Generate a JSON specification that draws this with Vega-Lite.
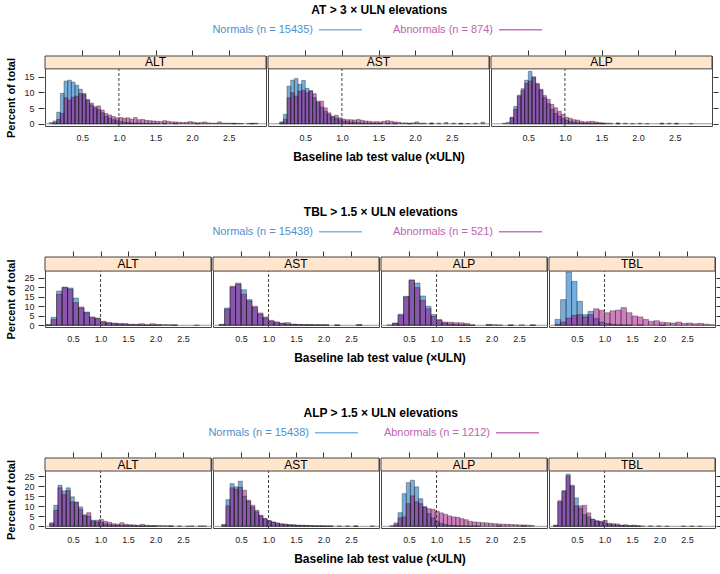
{
"$schema": "https://vega.github.io/schema/vega-lite/v6.json",
"padding": {"left": 5, "top": 4, "right": 5, "bottom": 4},
"background": "white",
"config": {
 "font": "Liberation Sans",
 "view": {"stroke": "#444", "strokeWidth": 1},
 "axis": {"domain": false, "grid": false, "labelFont": "Liberation Sans", "labelFontSize": 9, "labelColor": "#222", "tickColor": "#333", "titleFont": "Liberation Sans", "titleFontWeight": "bold", "titleColor": "#000"},
 "title": {"font": "Liberation Sans", "fontSize": 12, "fontWeight": "bold", "color": "#000"}
},
"datasets": {
"r1": [
{"t":"ALT","g":"N","lo":0.05,"hi":0.1,"p":0.4},{"t":"ALT","g":"N","lo":0.1,"hi":0.15,"p":0.9},{"t":"ALT","g":"N","lo":0.15,"hi":0.2,"p":3.7},{"t":"ALT","g":"N","lo":0.2,"hi":0.25,"p":9.7},{"t":"ALT","g":"N","lo":0.25,"hi":0.3,"p":13.6},{"t":"ALT","g":"N","lo":0.3,"hi":0.35,"p":13.9},{"t":"ALT","g":"N","lo":0.35,"hi":0.4,"p":13.3},{"t":"ALT","g":"N","lo":0.4,"hi":0.45,"p":12.3},{"t":"ALT","g":"N","lo":0.45,"hi":0.5,"p":11.0},{"t":"ALT","g":"N","lo":0.5,"hi":0.55,"p":9.3},{"t":"ALT","g":"N","lo":0.55,"hi":0.6,"p":7.5},{"t":"ALT","g":"N","lo":0.6,"hi":0.65,"p":6.0},{"t":"ALT","g":"N","lo":0.65,"hi":0.7,"p":5.0},{"t":"ALT","g":"N","lo":0.7,"hi":0.75,"p":4.5},{"t":"ALT","g":"N","lo":0.75,"hi":0.8,"p":3.5},{"t":"ALT","g":"N","lo":0.8,"hi":0.85,"p":2.4},{"t":"ALT","g":"N","lo":0.85,"hi":0.9,"p":1.8},{"t":"ALT","g":"N","lo":0.9,"hi":0.95,"p":1.3},{"t":"ALT","g":"N","lo":0.95,"hi":1.0,"p":1.0},{"t":"ALT","g":"N","lo":1.0,"hi":1.05,"p":0.7},{"t":"ALT","g":"N","lo":1.05,"hi":1.1,"p":0.5},{"t":"ALT","g":"N","lo":1.1,"hi":1.15,"p":0.4},{"t":"ALT","g":"N","lo":1.15,"hi":1.2,"p":0.3},{"t":"ALT","g":"N","lo":1.2,"hi":1.25,"p":0.25},{"t":"ALT","g":"N","lo":1.25,"hi":1.3,"p":0.2},{"t":"ALT","g":"N","lo":1.3,"hi":1.35,"p":0.15},{"t":"ALT","g":"N","lo":1.35,"hi":1.4,"p":0.12},{"t":"ALT","g":"N","lo":1.4,"hi":1.45,"p":0.1},{"t":"ALT","g":"N","lo":1.45,"hi":1.5,"p":0.1},{"t":"ALT","g":"N","lo":1.5,"hi":1.55,"p":0.08},{"t":"ALT","g":"N","lo":1.6,"hi":1.65,"p":0.06},{"t":"ALT","g":"N","lo":1.75,"hi":1.8,"p":0.05},{"t":"ALT","g":"N","lo":2.05,"hi":2.1,"p":0.04},{"t":"ALT","g":"N","lo":2.55,"hi":2.6,"p":0.04},{"t":"ALT","g":"N","lo":2.8,"hi":2.85,"p":0.04},
{"t":"ALT","g":"A","lo":0.1,"hi":0.15,"p":0.3},{"t":"ALT","g":"A","lo":0.15,"hi":0.2,"p":1.4},{"t":"ALT","g":"A","lo":0.2,"hi":0.25,"p":3.3},{"t":"ALT","g":"A","lo":0.25,"hi":0.3,"p":8.3},{"t":"ALT","g":"A","lo":0.3,"hi":0.35,"p":7.6},{"t":"ALT","g":"A","lo":0.35,"hi":0.4,"p":8.5},{"t":"ALT","g":"A","lo":0.4,"hi":0.45,"p":8.8},{"t":"ALT","g":"A","lo":0.45,"hi":0.5,"p":9.6},{"t":"ALT","g":"A","lo":0.5,"hi":0.55,"p":9.7},{"t":"ALT","g":"A","lo":0.55,"hi":0.6,"p":7.7},{"t":"ALT","g":"A","lo":0.6,"hi":0.65,"p":6.6},{"t":"ALT","g":"A","lo":0.65,"hi":0.7,"p":5.5},{"t":"ALT","g":"A","lo":0.7,"hi":0.75,"p":5.7},{"t":"ALT","g":"A","lo":0.75,"hi":0.8,"p":4.4},{"t":"ALT","g":"A","lo":0.8,"hi":0.85,"p":3.3},{"t":"ALT","g":"A","lo":0.85,"hi":0.9,"p":2.8},{"t":"ALT","g":"A","lo":0.9,"hi":0.95,"p":2.3},{"t":"ALT","g":"A","lo":0.95,"hi":1.0,"p":1.9},{"t":"ALT","g":"A","lo":1.0,"hi":1.05,"p":2.0},{"t":"ALT","g":"A","lo":1.05,"hi":1.1,"p":1.8},{"t":"ALT","g":"A","lo":1.1,"hi":1.15,"p":1.9},{"t":"ALT","g":"A","lo":1.15,"hi":1.2,"p":1.5},{"t":"ALT","g":"A","lo":1.2,"hi":1.25,"p":2.0},{"t":"ALT","g":"A","lo":1.25,"hi":1.3,"p":1.3},{"t":"ALT","g":"A","lo":1.3,"hi":1.35,"p":1.4},{"t":"ALT","g":"A","lo":1.35,"hi":1.4,"p":1.1},{"t":"ALT","g":"A","lo":1.4,"hi":1.45,"p":1.0},{"t":"ALT","g":"A","lo":1.45,"hi":1.5,"p":0.9},{"t":"ALT","g":"A","lo":1.5,"hi":1.55,"p":0.8},{"t":"ALT","g":"A","lo":1.55,"hi":1.6,"p":0.7},{"t":"ALT","g":"A","lo":1.6,"hi":1.65,"p":1.0},{"t":"ALT","g":"A","lo":1.65,"hi":1.7,"p":0.8},{"t":"ALT","g":"A","lo":1.7,"hi":1.75,"p":0.6},{"t":"ALT","g":"A","lo":1.75,"hi":1.8,"p":0.6},{"t":"ALT","g":"A","lo":1.8,"hi":1.85,"p":0.5},{"t":"ALT","g":"A","lo":1.85,"hi":1.9,"p":0.4},{"t":"ALT","g":"A","lo":1.9,"hi":1.95,"p":0.5},{"t":"ALT","g":"A","lo":1.95,"hi":2.0,"p":0.7},{"t":"ALT","g":"A","lo":2.0,"hi":2.05,"p":0.5},{"t":"ALT","g":"A","lo":2.05,"hi":2.1,"p":0.3},{"t":"ALT","g":"A","lo":2.1,"hi":2.15,"p":0.4},{"t":"ALT","g":"A","lo":2.15,"hi":2.2,"p":0.6},{"t":"ALT","g":"A","lo":2.2,"hi":2.25,"p":0.3},{"t":"ALT","g":"A","lo":2.25,"hi":2.3,"p":0.2},{"t":"ALT","g":"A","lo":2.3,"hi":2.35,"p":0.2},{"t":"ALT","g":"A","lo":2.35,"hi":2.4,"p":0.6},{"t":"ALT","g":"A","lo":2.4,"hi":2.45,"p":0.2},{"t":"ALT","g":"A","lo":2.45,"hi":2.5,"p":0.2},{"t":"ALT","g":"A","lo":2.5,"hi":2.55,"p":0.2},{"t":"ALT","g":"A","lo":2.55,"hi":2.6,"p":0.2},{"t":"ALT","g":"A","lo":2.6,"hi":2.65,"p":0.15},{"t":"ALT","g":"A","lo":2.65,"hi":2.7,"p":0.1},{"t":"ALT","g":"A","lo":2.75,"hi":2.8,"p":0.15},{"t":"ALT","g":"A","lo":2.8,"hi":2.85,"p":0.2},{"t":"ALT","g":"A","lo":2.85,"hi":2.9,"p":0.2},
{"t":"AST","g":"N","lo":0.15,"hi":0.2,"p":0.6},{"t":"AST","g":"N","lo":0.2,"hi":0.25,"p":3.0},{"t":"AST","g":"N","lo":0.25,"hi":0.3,"p":12.0},{"t":"AST","g":"N","lo":0.3,"hi":0.35,"p":13.9},{"t":"AST","g":"N","lo":0.35,"hi":0.4,"p":14.4},{"t":"AST","g":"N","lo":0.4,"hi":0.45,"p":12.6},{"t":"AST","g":"N","lo":0.45,"hi":0.5,"p":13.8},{"t":"AST","g":"N","lo":0.5,"hi":0.55,"p":11.3},{"t":"AST","g":"N","lo":0.55,"hi":0.6,"p":10.4},{"t":"AST","g":"N","lo":0.6,"hi":0.65,"p":8.3},{"t":"AST","g":"N","lo":0.65,"hi":0.7,"p":6.7},{"t":"AST","g":"N","lo":0.7,"hi":0.75,"p":5.3},{"t":"AST","g":"N","lo":0.75,"hi":0.8,"p":4.0},{"t":"AST","g":"N","lo":0.8,"hi":0.85,"p":3.0},{"t":"AST","g":"N","lo":0.85,"hi":0.9,"p":2.2},{"t":"AST","g":"N","lo":0.9,"hi":0.95,"p":1.7},{"t":"AST","g":"N","lo":0.95,"hi":1.0,"p":1.3},{"t":"AST","g":"N","lo":1.0,"hi":1.05,"p":0.9},{"t":"AST","g":"N","lo":1.05,"hi":1.1,"p":0.7},{"t":"AST","g":"N","lo":1.1,"hi":1.15,"p":0.5},{"t":"AST","g":"N","lo":1.15,"hi":1.2,"p":0.4},{"t":"AST","g":"N","lo":1.2,"hi":1.25,"p":0.3},{"t":"AST","g":"N","lo":1.25,"hi":1.3,"p":0.25},{"t":"AST","g":"N","lo":1.3,"hi":1.35,"p":0.2},{"t":"AST","g":"N","lo":1.35,"hi":1.4,"p":0.15},{"t":"AST","g":"N","lo":1.4,"hi":1.45,"p":0.12},{"t":"AST","g":"N","lo":1.45,"hi":1.5,"p":0.1},{"t":"AST","g":"N","lo":1.5,"hi":1.55,"p":0.1},{"t":"AST","g":"N","lo":1.6,"hi":1.65,"p":0.08},{"t":"AST","g":"N","lo":1.7,"hi":1.75,"p":0.06},{"t":"AST","g":"N","lo":1.9,"hi":1.95,"p":0.05},{"t":"AST","g":"N","lo":2.2,"hi":2.25,"p":0.04},{"t":"AST","g":"N","lo":2.6,"hi":2.65,"p":0.04},
{"t":"AST","g":"A","lo":0.15,"hi":0.2,"p":0.3},{"t":"AST","g":"A","lo":0.2,"hi":0.25,"p":1.4},{"t":"AST","g":"A","lo":0.25,"hi":0.3,"p":8.3},{"t":"AST","g":"A","lo":0.3,"hi":0.35,"p":9.9},{"t":"AST","g":"A","lo":0.35,"hi":0.4,"p":8.8},{"t":"AST","g":"A","lo":0.4,"hi":0.45,"p":10.4},{"t":"AST","g":"A","lo":0.45,"hi":0.5,"p":10.6},{"t":"AST","g":"A","lo":0.5,"hi":0.55,"p":9.9},{"t":"AST","g":"A","lo":0.55,"hi":0.6,"p":10.6},{"t":"AST","g":"A","lo":0.6,"hi":0.65,"p":9.6},{"t":"AST","g":"A","lo":0.65,"hi":0.7,"p":7.2},{"t":"AST","g":"A","lo":0.7,"hi":0.75,"p":7.2},{"t":"AST","g":"A","lo":0.75,"hi":0.8,"p":5.1},{"t":"AST","g":"A","lo":0.8,"hi":0.85,"p":3.5},{"t":"AST","g":"A","lo":0.85,"hi":0.9,"p":2.4},{"t":"AST","g":"A","lo":0.9,"hi":0.95,"p":2.7},{"t":"AST","g":"A","lo":0.95,"hi":1.0,"p":1.9},{"t":"AST","g":"A","lo":1.0,"hi":1.05,"p":1.5},{"t":"AST","g":"A","lo":1.05,"hi":1.1,"p":1.3},{"t":"AST","g":"A","lo":1.1,"hi":1.15,"p":1.3},{"t":"AST","g":"A","lo":1.15,"hi":1.2,"p":1.2},{"t":"AST","g":"A","lo":1.2,"hi":1.25,"p":1.4},{"t":"AST","g":"A","lo":1.25,"hi":1.3,"p":1.1},{"t":"AST","g":"A","lo":1.3,"hi":1.35,"p":0.9},{"t":"AST","g":"A","lo":1.35,"hi":1.4,"p":0.8},{"t":"AST","g":"A","lo":1.4,"hi":1.45,"p":0.6},{"t":"AST","g":"A","lo":1.45,"hi":1.5,"p":0.7},{"t":"AST","g":"A","lo":1.5,"hi":1.55,"p":0.6},{"t":"AST","g":"A","lo":1.55,"hi":1.6,"p":0.8},{"t":"AST","g":"A","lo":1.6,"hi":1.65,"p":1.0},{"t":"AST","g":"A","lo":1.65,"hi":1.7,"p":0.8},{"t":"AST","g":"A","lo":1.7,"hi":1.75,"p":0.6},{"t":"AST","g":"A","lo":1.75,"hi":1.8,"p":0.5},{"t":"AST","g":"A","lo":1.8,"hi":1.85,"p":0.3},{"t":"AST","g":"A","lo":1.85,"hi":1.9,"p":0.3},{"t":"AST","g":"A","lo":1.9,"hi":1.95,"p":0.2},{"t":"AST","g":"A","lo":1.95,"hi":2.0,"p":0.3},{"t":"AST","g":"A","lo":2.0,"hi":2.05,"p":0.6},{"t":"AST","g":"A","lo":2.05,"hi":2.1,"p":0.2},{"t":"AST","g":"A","lo":2.1,"hi":2.15,"p":0.2},{"t":"AST","g":"A","lo":2.2,"hi":2.25,"p":0.3},{"t":"AST","g":"A","lo":2.3,"hi":2.35,"p":0.2},{"t":"AST","g":"A","lo":2.4,"hi":2.45,"p":0.4},{"t":"AST","g":"A","lo":2.5,"hi":2.55,"p":0.2},{"t":"AST","g":"A","lo":2.6,"hi":2.65,"p":0.2},{"t":"AST","g":"A","lo":2.7,"hi":2.75,"p":0.1},{"t":"AST","g":"A","lo":2.8,"hi":2.85,"p":0.2},{"t":"AST","g":"A","lo":2.9,"hi":2.95,"p":0.5},
{"t":"ALP","g":"N","lo":0.15,"hi":0.2,"p":0.2},{"t":"ALP","g":"N","lo":0.2,"hi":0.25,"p":0.5},{"t":"ALP","g":"N","lo":0.25,"hi":0.3,"p":2.1},{"t":"ALP","g":"N","lo":0.3,"hi":0.35,"p":5.5},{"t":"ALP","g":"N","lo":0.35,"hi":0.4,"p":9.1},{"t":"ALP","g":"N","lo":0.4,"hi":0.45,"p":11.2},{"t":"ALP","g":"N","lo":0.45,"hi":0.5,"p":13.9},{"t":"ALP","g":"N","lo":0.5,"hi":0.55,"p":16.7},{"t":"ALP","g":"N","lo":0.55,"hi":0.6,"p":15.0},{"t":"ALP","g":"N","lo":0.6,"hi":0.65,"p":12.9},{"t":"ALP","g":"N","lo":0.65,"hi":0.7,"p":10.7},{"t":"ALP","g":"N","lo":0.7,"hi":0.75,"p":8.3},{"t":"ALP","g":"N","lo":0.75,"hi":0.8,"p":6.4},{"t":"ALP","g":"N","lo":0.8,"hi":0.85,"p":4.6},{"t":"ALP","g":"N","lo":0.85,"hi":0.9,"p":3.3},{"t":"ALP","g":"N","lo":0.9,"hi":0.95,"p":2.4},{"t":"ALP","g":"N","lo":0.95,"hi":1.0,"p":1.7},{"t":"ALP","g":"N","lo":1.0,"hi":1.05,"p":1.1},{"t":"ALP","g":"N","lo":1.05,"hi":1.1,"p":0.7},{"t":"ALP","g":"N","lo":1.1,"hi":1.15,"p":0.5},{"t":"ALP","g":"N","lo":1.15,"hi":1.2,"p":0.35},{"t":"ALP","g":"N","lo":1.2,"hi":1.25,"p":0.25},{"t":"ALP","g":"N","lo":1.25,"hi":1.3,"p":0.2},{"t":"ALP","g":"N","lo":1.3,"hi":1.35,"p":0.15},{"t":"ALP","g":"N","lo":1.35,"hi":1.4,"p":0.1},{"t":"ALP","g":"N","lo":1.4,"hi":1.45,"p":0.1},{"t":"ALP","g":"N","lo":1.45,"hi":1.5,"p":0.08},{"t":"ALP","g":"N","lo":1.5,"hi":1.55,"p":0.06},{"t":"ALP","g":"N","lo":1.7,"hi":1.75,"p":0.05},{"t":"ALP","g":"N","lo":1.9,"hi":1.95,"p":0.05},{"t":"ALP","g":"N","lo":2.1,"hi":2.15,"p":0.05},{"t":"ALP","g":"N","lo":2.3,"hi":2.35,"p":0.05},{"t":"ALP","g":"N","lo":2.5,"hi":2.55,"p":0.05},{"t":"ALP","g":"N","lo":2.7,"hi":2.75,"p":0.05},
{"t":"ALP","g":"A","lo":0.25,"hi":0.3,"p":1.9},{"t":"ALP","g":"A","lo":0.3,"hi":0.35,"p":4.6},{"t":"ALP","g":"A","lo":0.35,"hi":0.4,"p":8.8},{"t":"ALP","g":"A","lo":0.4,"hi":0.45,"p":10.6},{"t":"ALP","g":"A","lo":0.45,"hi":0.5,"p":12.9},{"t":"ALP","g":"A","lo":0.5,"hi":0.55,"p":13.6},{"t":"ALP","g":"A","lo":0.55,"hi":0.6,"p":14.7},{"t":"ALP","g":"A","lo":0.6,"hi":0.65,"p":12.6},{"t":"ALP","g":"A","lo":0.65,"hi":0.7,"p":11.0},{"t":"ALP","g":"A","lo":0.7,"hi":0.75,"p":9.0},{"t":"ALP","g":"A","lo":0.75,"hi":0.8,"p":7.8},{"t":"ALP","g":"A","lo":0.8,"hi":0.85,"p":6.2},{"t":"ALP","g":"A","lo":0.85,"hi":0.9,"p":5.1},{"t":"ALP","g":"A","lo":0.9,"hi":0.95,"p":4.0},{"t":"ALP","g":"A","lo":0.95,"hi":1.0,"p":3.0},{"t":"ALP","g":"A","lo":1.0,"hi":1.05,"p":2.1},{"t":"ALP","g":"A","lo":1.05,"hi":1.1,"p":1.7},{"t":"ALP","g":"A","lo":1.1,"hi":1.15,"p":1.3},{"t":"ALP","g":"A","lo":1.15,"hi":1.2,"p":1.2},{"t":"ALP","g":"A","lo":1.2,"hi":1.25,"p":0.8},{"t":"ALP","g":"A","lo":1.25,"hi":1.3,"p":0.6},{"t":"ALP","g":"A","lo":1.3,"hi":1.35,"p":0.7},{"t":"ALP","g":"A","lo":1.35,"hi":1.4,"p":0.8},{"t":"ALP","g":"A","lo":1.4,"hi":1.45,"p":0.6},{"t":"ALP","g":"A","lo":1.45,"hi":1.5,"p":0.4},{"t":"ALP","g":"A","lo":1.5,"hi":1.55,"p":0.3},{"t":"ALP","g":"A","lo":1.55,"hi":1.6,"p":0.2},{"t":"ALP","g":"A","lo":1.6,"hi":1.65,"p":0.2},{"t":"ALP","g":"A","lo":1.7,"hi":1.75,"p":0.3},{"t":"ALP","g":"A","lo":1.8,"hi":1.85,"p":0.2},{"t":"ALP","g":"A","lo":2.0,"hi":2.05,"p":0.2},{"t":"ALP","g":"A","lo":2.3,"hi":2.35,"p":0.2},{"t":"ALP","g":"A","lo":2.4,"hi":2.45,"p":0.2},{"t":"ALP","g":"A","lo":2.5,"hi":2.55,"p":0.2}
],
"r2": [
{"t":"ALT","g":"N","lo":0.0,"hi":0.1,"p":0.3},{"t":"ALT","g":"N","lo":0.1,"hi":0.2,"p":4.2},{"t":"ALT","g":"N","lo":0.2,"hi":0.3,"p":18.0},{"t":"ALT","g":"N","lo":0.3,"hi":0.4,"p":20.1},{"t":"ALT","g":"N","lo":0.4,"hi":0.5,"p":19.6},{"t":"ALT","g":"N","lo":0.5,"hi":0.6,"p":14.3},{"t":"ALT","g":"N","lo":0.6,"hi":0.7,"p":9.6},{"t":"ALT","g":"N","lo":0.7,"hi":0.8,"p":7.0},{"t":"ALT","g":"N","lo":0.8,"hi":0.9,"p":4.0},{"t":"ALT","g":"N","lo":0.9,"hi":1.0,"p":3.5},{"t":"ALT","g":"N","lo":1.0,"hi":1.1,"p":1.7},{"t":"ALT","g":"N","lo":1.1,"hi":1.2,"p":1.2},{"t":"ALT","g":"N","lo":1.2,"hi":1.3,"p":0.8},{"t":"ALT","g":"N","lo":1.3,"hi":1.4,"p":0.6},{"t":"ALT","g":"N","lo":1.4,"hi":1.5,"p":0.5},{"t":"ALT","g":"N","lo":1.5,"hi":1.6,"p":0.3},{"t":"ALT","g":"N","lo":1.6,"hi":1.7,"p":0.2},{"t":"ALT","g":"N","lo":1.7,"hi":1.8,"p":0.15},{"t":"ALT","g":"N","lo":1.8,"hi":1.9,"p":0.1},{"t":"ALT","g":"N","lo":1.9,"hi":2.0,"p":0.1},{"t":"ALT","g":"N","lo":2.0,"hi":2.1,"p":0.05},{"t":"ALT","g":"N","lo":2.3,"hi":2.4,"p":0.05},{"t":"ALT","g":"N","lo":2.7,"hi":2.8,"p":0.05},
{"t":"ALT","g":"A","lo":0.0,"hi":0.1,"p":0.2},{"t":"ALT","g":"A","lo":0.1,"hi":0.2,"p":3.0},{"t":"ALT","g":"A","lo":0.2,"hi":0.3,"p":16.3},{"t":"ALT","g":"A","lo":0.3,"hi":0.4,"p":19.8},{"t":"ALT","g":"A","lo":0.4,"hi":0.5,"p":18.9},{"t":"ALT","g":"A","lo":0.5,"hi":0.6,"p":11.9},{"t":"ALT","g":"A","lo":0.6,"hi":0.7,"p":9.1},{"t":"ALT","g":"A","lo":0.7,"hi":0.8,"p":6.6},{"t":"ALT","g":"A","lo":0.8,"hi":0.9,"p":4.4},{"t":"ALT","g":"A","lo":0.9,"hi":1.0,"p":3.8},{"t":"ALT","g":"A","lo":1.0,"hi":1.1,"p":2.1},{"t":"ALT","g":"A","lo":1.1,"hi":1.2,"p":1.5},{"t":"ALT","g":"A","lo":1.2,"hi":1.3,"p":1.2},{"t":"ALT","g":"A","lo":1.3,"hi":1.4,"p":1.0},{"t":"ALT","g":"A","lo":1.4,"hi":1.5,"p":0.9},{"t":"ALT","g":"A","lo":1.5,"hi":1.6,"p":0.5},{"t":"ALT","g":"A","lo":1.6,"hi":1.7,"p":0.5},{"t":"ALT","g":"A","lo":1.7,"hi":1.8,"p":0.8},{"t":"ALT","g":"A","lo":1.8,"hi":1.9,"p":0.3},{"t":"ALT","g":"A","lo":1.9,"hi":2.0,"p":0.8},{"t":"ALT","g":"A","lo":2.0,"hi":2.1,"p":0.4},{"t":"ALT","g":"A","lo":2.1,"hi":2.2,"p":0.4},{"t":"ALT","g":"A","lo":2.2,"hi":2.3,"p":0.3},{"t":"ALT","g":"A","lo":2.3,"hi":2.4,"p":0.2},
{"t":"AST","g":"N","lo":0.1,"hi":0.2,"p":0.3},{"t":"AST","g":"N","lo":0.2,"hi":0.3,"p":9.1},{"t":"AST","g":"N","lo":0.3,"hi":0.4,"p":20.1},{"t":"AST","g":"N","lo":0.4,"hi":0.5,"p":22.2},{"t":"AST","g":"N","lo":0.5,"hi":0.6,"p":18.7},{"t":"AST","g":"N","lo":0.6,"hi":0.7,"p":13.5},{"t":"AST","g":"N","lo":0.7,"hi":0.8,"p":9.3},{"t":"AST","g":"N","lo":0.8,"hi":0.9,"p":5.8},{"t":"AST","g":"N","lo":0.9,"hi":1.0,"p":3.8},{"t":"AST","g":"N","lo":1.0,"hi":1.1,"p":2.1},{"t":"AST","g":"N","lo":1.1,"hi":1.2,"p":1.4},{"t":"AST","g":"N","lo":1.2,"hi":1.3,"p":0.9},{"t":"AST","g":"N","lo":1.3,"hi":1.4,"p":0.6},{"t":"AST","g":"N","lo":1.4,"hi":1.5,"p":0.4},{"t":"AST","g":"N","lo":1.5,"hi":1.6,"p":0.3},{"t":"AST","g":"N","lo":1.6,"hi":1.7,"p":0.2},{"t":"AST","g":"N","lo":1.7,"hi":1.8,"p":0.2},{"t":"AST","g":"N","lo":1.8,"hi":1.9,"p":0.1},{"t":"AST","g":"N","lo":1.9,"hi":2.0,"p":0.1},{"t":"AST","g":"N","lo":2.0,"hi":2.1,"p":0.1},{"t":"AST","g":"N","lo":2.2,"hi":2.3,"p":0.05},{"t":"AST","g":"N","lo":2.6,"hi":2.7,"p":0.05},
{"t":"AST","g":"A","lo":0.1,"hi":0.2,"p":0.5},{"t":"AST","g":"A","lo":0.2,"hi":0.3,"p":8.4},{"t":"AST","g":"A","lo":0.3,"hi":0.4,"p":20.5},{"t":"AST","g":"A","lo":0.4,"hi":0.5,"p":21.5},{"t":"AST","g":"A","lo":0.5,"hi":0.6,"p":16.3},{"t":"AST","g":"A","lo":0.6,"hi":0.7,"p":12.8},{"t":"AST","g":"A","lo":0.7,"hi":0.8,"p":10.0},{"t":"AST","g":"A","lo":0.8,"hi":0.9,"p":6.5},{"t":"AST","g":"A","lo":0.9,"hi":1.0,"p":4.4},{"t":"AST","g":"A","lo":1.0,"hi":1.1,"p":2.6},{"t":"AST","g":"A","lo":1.1,"hi":1.2,"p":1.8},{"t":"AST","g":"A","lo":1.2,"hi":1.3,"p":1.2},{"t":"AST","g":"A","lo":1.3,"hi":1.4,"p":1.4},{"t":"AST","g":"A","lo":1.4,"hi":1.5,"p":0.6},{"t":"AST","g":"A","lo":1.5,"hi":1.6,"p":0.5},{"t":"AST","g":"A","lo":1.6,"hi":1.7,"p":0.4},{"t":"AST","g":"A","lo":1.7,"hi":1.8,"p":0.4},{"t":"AST","g":"A","lo":1.8,"hi":1.9,"p":0.3},{"t":"AST","g":"A","lo":1.9,"hi":2.0,"p":0.3},{"t":"AST","g":"A","lo":2.0,"hi":2.1,"p":0.3},{"t":"AST","g":"A","lo":2.2,"hi":2.3,"p":0.2},{"t":"AST","g":"A","lo":2.6,"hi":2.7,"p":0.4},
{"t":"ALP","g":"N","lo":0.2,"hi":0.3,"p":1.2},{"t":"ALP","g":"N","lo":0.3,"hi":0.4,"p":5.8},{"t":"ALP","g":"N","lo":0.4,"hi":0.5,"p":15.2},{"t":"ALP","g":"N","lo":0.5,"hi":0.6,"p":23.9},{"t":"ALP","g":"N","lo":0.6,"hi":0.7,"p":22.2},{"t":"ALP","g":"N","lo":0.7,"hi":0.8,"p":15.4},{"t":"ALP","g":"N","lo":0.8,"hi":0.9,"p":10.0},{"t":"ALP","g":"N","lo":0.9,"hi":1.0,"p":5.6},{"t":"ALP","g":"N","lo":1.0,"hi":1.1,"p":2.6},{"t":"ALP","g":"N","lo":1.1,"hi":1.2,"p":1.2},{"t":"ALP","g":"N","lo":1.2,"hi":1.3,"p":0.6},{"t":"ALP","g":"N","lo":1.3,"hi":1.4,"p":0.3},{"t":"ALP","g":"N","lo":1.4,"hi":1.5,"p":0.2},{"t":"ALP","g":"N","lo":1.5,"hi":1.6,"p":0.1},{"t":"ALP","g":"N","lo":1.6,"hi":1.7,"p":0.1},{"t":"ALP","g":"N","lo":1.9,"hi":2.0,"p":0.05},{"t":"ALP","g":"N","lo":2.3,"hi":2.4,"p":0.05},{"t":"ALP","g":"N","lo":2.7,"hi":2.8,"p":0.05},
{"t":"ALP","g":"A","lo":0.1,"hi":0.2,"p":0.2},{"t":"ALP","g":"A","lo":0.2,"hi":0.3,"p":1.0},{"t":"ALP","g":"A","lo":0.3,"hi":0.4,"p":5.3},{"t":"ALP","g":"A","lo":0.4,"hi":0.5,"p":14.9},{"t":"ALP","g":"A","lo":0.5,"hi":0.6,"p":23.6},{"t":"ALP","g":"A","lo":0.6,"hi":0.7,"p":19.8},{"t":"ALP","g":"A","lo":0.7,"hi":0.8,"p":13.1},{"t":"ALP","g":"A","lo":0.8,"hi":0.9,"p":8.7},{"t":"ALP","g":"A","lo":0.9,"hi":1.0,"p":4.7},{"t":"ALP","g":"A","lo":1.0,"hi":1.1,"p":3.0},{"t":"ALP","g":"A","lo":1.1,"hi":1.2,"p":1.7},{"t":"ALP","g":"A","lo":1.2,"hi":1.3,"p":1.6},{"t":"ALP","g":"A","lo":1.3,"hi":1.4,"p":1.4},{"t":"ALP","g":"A","lo":1.4,"hi":1.5,"p":1.3},{"t":"ALP","g":"A","lo":1.5,"hi":1.6,"p":1.0},{"t":"ALP","g":"A","lo":1.6,"hi":1.7,"p":0.2},{"t":"ALP","g":"A","lo":1.9,"hi":2.0,"p":0.5},{"t":"ALP","g":"A","lo":2.0,"hi":2.1,"p":0.3},{"t":"ALP","g":"A","lo":2.1,"hi":2.2,"p":0.2},{"t":"ALP","g":"A","lo":2.3,"hi":2.4,"p":0.2},{"t":"ALP","g":"A","lo":2.5,"hi":2.6,"p":0.2},{"t":"ALP","g":"A","lo":2.7,"hi":2.8,"p":0.2},
{"t":"TBL","g":"N","lo":0.1,"hi":0.2,"p":3.1},{"t":"TBL","g":"N","lo":0.2,"hi":0.3,"p":13.5},{"t":"TBL","g":"N","lo":0.3,"hi":0.4,"p":28.0},{"t":"TBL","g":"N","lo":0.4,"hi":0.5,"p":23.1},{"t":"TBL","g":"N","lo":0.5,"hi":0.6,"p":12.6},{"t":"TBL","g":"N","lo":0.6,"hi":0.7,"p":5.6},{"t":"TBL","g":"N","lo":0.7,"hi":0.8,"p":7.3},{"t":"TBL","g":"N","lo":0.8,"hi":0.9,"p":3.5},{"t":"TBL","g":"N","lo":0.9,"hi":1.0,"p":1.7},{"t":"TBL","g":"N","lo":1.0,"hi":1.1,"p":0.9},{"t":"TBL","g":"N","lo":1.1,"hi":1.2,"p":0.5},{"t":"TBL","g":"N","lo":1.2,"hi":1.3,"p":0.3},{"t":"TBL","g":"N","lo":1.3,"hi":1.4,"p":0.2},{"t":"TBL","g":"N","lo":1.4,"hi":1.5,"p":0.1},{"t":"TBL","g":"N","lo":1.6,"hi":1.7,"p":0.05},{"t":"TBL","g":"N","lo":2.0,"hi":2.1,"p":0.05},
{"t":"TBL","g":"A","lo":0.1,"hi":0.2,"p":0.5},{"t":"TBL","g":"A","lo":0.2,"hi":0.3,"p":1.7},{"t":"TBL","g":"A","lo":0.3,"hi":0.4,"p":3.8},{"t":"TBL","g":"A","lo":0.4,"hi":0.5,"p":5.2},{"t":"TBL","g":"A","lo":0.5,"hi":0.6,"p":5.6},{"t":"TBL","g":"A","lo":0.6,"hi":0.7,"p":4.4},{"t":"TBL","g":"A","lo":0.7,"hi":0.8,"p":5.6},{"t":"TBL","g":"A","lo":0.8,"hi":0.9,"p":8.7},{"t":"TBL","g":"A","lo":0.9,"hi":1.0,"p":7.9},{"t":"TBL","g":"A","lo":1.0,"hi":1.1,"p":6.6},{"t":"TBL","g":"A","lo":1.1,"hi":1.2,"p":7.6},{"t":"TBL","g":"A","lo":1.2,"hi":1.3,"p":8.0},{"t":"TBL","g":"A","lo":1.3,"hi":1.4,"p":9.3},{"t":"TBL","g":"A","lo":1.4,"hi":1.5,"p":6.6},{"t":"TBL","g":"A","lo":1.5,"hi":1.6,"p":4.9},{"t":"TBL","g":"A","lo":1.6,"hi":1.7,"p":4.4},{"t":"TBL","g":"A","lo":1.7,"hi":1.8,"p":3.1},{"t":"TBL","g":"A","lo":1.8,"hi":1.9,"p":2.1},{"t":"TBL","g":"A","lo":1.9,"hi":2.0,"p":2.4},{"t":"TBL","g":"A","lo":2.0,"hi":2.1,"p":1.6},{"t":"TBL","g":"A","lo":2.1,"hi":2.2,"p":1.4},{"t":"TBL","g":"A","lo":2.2,"hi":2.3,"p":1.2},{"t":"TBL","g":"A","lo":2.3,"hi":2.4,"p":1.7},{"t":"TBL","g":"A","lo":2.4,"hi":2.5,"p":1.0},{"t":"TBL","g":"A","lo":2.5,"hi":2.6,"p":1.2},{"t":"TBL","g":"A","lo":2.6,"hi":2.7,"p":0.8},{"t":"TBL","g":"A","lo":2.7,"hi":2.8,"p":1.0},{"t":"TBL","g":"A","lo":2.8,"hi":2.9,"p":0.6},{"t":"TBL","g":"A","lo":2.9,"hi":3.0,"p":0.3}
],
"r3": [
{"t":"ALT","g":"N","lo":0.075,"hi":0.15,"p":1.2},{"t":"ALT","g":"N","lo":0.15,"hi":0.225,"p":10.5},{"t":"ALT","g":"N","lo":0.225,"hi":0.3,"p":20.5},{"t":"ALT","g":"N","lo":0.3,"hi":0.375,"p":17.7},{"t":"ALT","g":"N","lo":0.375,"hi":0.45,"p":19.2},{"t":"ALT","g":"N","lo":0.45,"hi":0.525,"p":14.7},{"t":"ALT","g":"N","lo":0.525,"hi":0.6,"p":12.2},{"t":"ALT","g":"N","lo":0.6,"hi":0.675,"p":9.7},{"t":"ALT","g":"N","lo":0.675,"hi":0.75,"p":5.8},{"t":"ALT","g":"N","lo":0.75,"hi":0.825,"p":5.0},{"t":"ALT","g":"N","lo":0.825,"hi":0.9,"p":3.0},{"t":"ALT","g":"N","lo":0.9,"hi":0.975,"p":2.2},{"t":"ALT","g":"N","lo":0.975,"hi":1.05,"p":1.8},{"t":"ALT","g":"N","lo":1.05,"hi":1.125,"p":1.2},{"t":"ALT","g":"N","lo":1.125,"hi":1.2,"p":0.8},{"t":"ALT","g":"N","lo":1.2,"hi":1.275,"p":0.6},{"t":"ALT","g":"N","lo":1.275,"hi":1.35,"p":0.5},{"t":"ALT","g":"N","lo":1.35,"hi":1.425,"p":0.4},{"t":"ALT","g":"N","lo":1.425,"hi":1.5,"p":0.3},{"t":"ALT","g":"N","lo":1.5,"hi":1.575,"p":0.25},{"t":"ALT","g":"N","lo":1.575,"hi":1.65,"p":0.2},{"t":"ALT","g":"N","lo":1.65,"hi":1.725,"p":0.15},{"t":"ALT","g":"N","lo":1.725,"hi":1.8,"p":0.1},{"t":"ALT","g":"N","lo":1.8,"hi":1.875,"p":0.1},{"t":"ALT","g":"N","lo":1.875,"hi":1.95,"p":0.1},{"t":"ALT","g":"N","lo":1.95,"hi":2.025,"p":0.05},{"t":"ALT","g":"N","lo":2.25,"hi":2.325,"p":0.05},{"t":"ALT","g":"N","lo":2.55,"hi":2.625,"p":0.05},
{"t":"ALT","g":"A","lo":0.075,"hi":0.15,"p":1.8},{"t":"ALT","g":"A","lo":0.15,"hi":0.225,"p":8.0},{"t":"ALT","g":"A","lo":0.225,"hi":0.3,"p":19.2},{"t":"ALT","g":"A","lo":0.3,"hi":0.375,"p":15.8},{"t":"ALT","g":"A","lo":0.375,"hi":0.45,"p":17.8},{"t":"ALT","g":"A","lo":0.45,"hi":0.525,"p":12.2},{"t":"ALT","g":"A","lo":0.525,"hi":0.6,"p":11.8},{"t":"ALT","g":"A","lo":0.6,"hi":0.675,"p":8.5},{"t":"ALT","g":"A","lo":0.675,"hi":0.75,"p":5.2},{"t":"ALT","g":"A","lo":0.75,"hi":0.825,"p":6.8},{"t":"ALT","g":"A","lo":0.825,"hi":0.9,"p":2.5},{"t":"ALT","g":"A","lo":0.9,"hi":0.975,"p":3.0},{"t":"ALT","g":"A","lo":0.975,"hi":1.05,"p":3.5},{"t":"ALT","g":"A","lo":1.05,"hi":1.125,"p":2.5},{"t":"ALT","g":"A","lo":1.125,"hi":1.2,"p":2.0},{"t":"ALT","g":"A","lo":1.2,"hi":1.275,"p":1.3},{"t":"ALT","g":"A","lo":1.275,"hi":1.35,"p":1.0},{"t":"ALT","g":"A","lo":1.35,"hi":1.425,"p":1.8},{"t":"ALT","g":"A","lo":1.425,"hi":1.5,"p":1.0},{"t":"ALT","g":"A","lo":1.5,"hi":1.575,"p":0.8},{"t":"ALT","g":"A","lo":1.575,"hi":1.65,"p":0.7},{"t":"ALT","g":"A","lo":1.65,"hi":1.725,"p":0.5},{"t":"ALT","g":"A","lo":1.725,"hi":1.8,"p":1.0},{"t":"ALT","g":"A","lo":1.8,"hi":1.875,"p":0.5},{"t":"ALT","g":"A","lo":1.875,"hi":1.95,"p":0.4},{"t":"ALT","g":"A","lo":1.95,"hi":2.025,"p":0.4},{"t":"ALT","g":"A","lo":2.025,"hi":2.1,"p":0.4},{"t":"ALT","g":"A","lo":2.1,"hi":2.175,"p":0.3},{"t":"ALT","g":"A","lo":2.175,"hi":2.25,"p":0.3},{"t":"ALT","g":"A","lo":2.25,"hi":2.325,"p":0.3},{"t":"ALT","g":"A","lo":2.4,"hi":2.475,"p":0.2},{"t":"ALT","g":"A","lo":2.625,"hi":2.7,"p":0.2},{"t":"ALT","g":"A","lo":2.775,"hi":2.85,"p":0.2},{"t":"ALT","g":"A","lo":2.85,"hi":2.925,"p":0.2},
{"t":"AST","g":"N","lo":0.15,"hi":0.225,"p":0.5},{"t":"AST","g":"N","lo":0.225,"hi":0.3,"p":13.3},{"t":"AST","g":"N","lo":0.3,"hi":0.375,"p":21.3},{"t":"AST","g":"N","lo":0.375,"hi":0.45,"p":19.7},{"t":"AST","g":"N","lo":0.45,"hi":0.525,"p":22.5},{"t":"AST","g":"N","lo":0.525,"hi":0.6,"p":15.0},{"t":"AST","g":"N","lo":0.6,"hi":0.675,"p":12.5},{"t":"AST","g":"N","lo":0.675,"hi":0.75,"p":9.7},{"t":"AST","g":"N","lo":0.75,"hi":0.825,"p":7.2},{"t":"AST","g":"N","lo":0.825,"hi":0.9,"p":5.2},{"t":"AST","g":"N","lo":0.9,"hi":0.975,"p":3.8},{"t":"AST","g":"N","lo":0.975,"hi":1.05,"p":2.8},{"t":"AST","g":"N","lo":1.05,"hi":1.125,"p":2.0},{"t":"AST","g":"N","lo":1.125,"hi":1.2,"p":1.5},{"t":"AST","g":"N","lo":1.2,"hi":1.275,"p":1.0},{"t":"AST","g":"N","lo":1.275,"hi":1.35,"p":0.8},{"t":"AST","g":"N","lo":1.35,"hi":1.425,"p":0.6},{"t":"AST","g":"N","lo":1.425,"hi":1.5,"p":0.5},{"t":"AST","g":"N","lo":1.5,"hi":1.575,"p":0.4},{"t":"AST","g":"N","lo":1.575,"hi":1.65,"p":0.3},{"t":"AST","g":"N","lo":1.65,"hi":1.725,"p":0.25},{"t":"AST","g":"N","lo":1.725,"hi":1.8,"p":0.2},{"t":"AST","g":"N","lo":1.8,"hi":1.875,"p":0.15},{"t":"AST","g":"N","lo":1.875,"hi":1.95,"p":0.1},{"t":"AST","g":"N","lo":1.95,"hi":2.025,"p":0.1},{"t":"AST","g":"N","lo":2.025,"hi":2.1,"p":0.05},{"t":"AST","g":"N","lo":2.1,"hi":2.175,"p":0.05},{"t":"AST","g":"N","lo":2.55,"hi":2.625,"p":0.05},
{"t":"AST","g":"A","lo":0.15,"hi":0.225,"p":1.0},{"t":"AST","g":"A","lo":0.225,"hi":0.3,"p":10.2},{"t":"AST","g":"A","lo":0.3,"hi":0.375,"p":19.2},{"t":"AST","g":"A","lo":0.375,"hi":0.45,"p":18.5},{"t":"AST","g":"A","lo":0.45,"hi":0.525,"p":19.5},{"t":"AST","g":"A","lo":0.525,"hi":0.6,"p":18.0},{"t":"AST","g":"A","lo":0.6,"hi":0.675,"p":13.0},{"t":"AST","g":"A","lo":0.675,"hi":0.75,"p":10.5},{"t":"AST","g":"A","lo":0.75,"hi":0.825,"p":8.0},{"t":"AST","g":"A","lo":0.825,"hi":0.9,"p":5.5},{"t":"AST","g":"A","lo":0.9,"hi":0.975,"p":3.8},{"t":"AST","g":"A","lo":0.975,"hi":1.05,"p":2.8},{"t":"AST","g":"A","lo":1.05,"hi":1.125,"p":2.2},{"t":"AST","g":"A","lo":1.125,"hi":1.2,"p":1.7},{"t":"AST","g":"A","lo":1.2,"hi":1.275,"p":1.3},{"t":"AST","g":"A","lo":1.275,"hi":1.35,"p":1.1},{"t":"AST","g":"A","lo":1.35,"hi":1.425,"p":0.9},{"t":"AST","g":"A","lo":1.425,"hi":1.5,"p":0.8},{"t":"AST","g":"A","lo":1.5,"hi":1.575,"p":0.6},{"t":"AST","g":"A","lo":1.575,"hi":1.65,"p":0.5},{"t":"AST","g":"A","lo":1.65,"hi":1.725,"p":0.5},{"t":"AST","g":"A","lo":1.725,"hi":1.8,"p":0.4},{"t":"AST","g":"A","lo":1.8,"hi":1.875,"p":0.3},{"t":"AST","g":"A","lo":1.875,"hi":1.95,"p":0.3},{"t":"AST","g":"A","lo":1.95,"hi":2.025,"p":0.3},{"t":"AST","g":"A","lo":2.025,"hi":2.1,"p":0.2},{"t":"AST","g":"A","lo":2.1,"hi":2.175,"p":0.2},{"t":"AST","g":"A","lo":2.25,"hi":2.325,"p":0.2},{"t":"AST","g":"A","lo":2.4,"hi":2.475,"p":0.2},{"t":"AST","g":"A","lo":2.55,"hi":2.625,"p":0.2},{"t":"AST","g":"A","lo":2.85,"hi":2.925,"p":0.2},
{"t":"ALP","g":"N","lo":0.225,"hi":0.3,"p":1.7},{"t":"ALP","g":"N","lo":0.3,"hi":0.375,"p":6.8},{"t":"ALP","g":"N","lo":0.375,"hi":0.45,"p":16.3},{"t":"ALP","g":"N","lo":0.45,"hi":0.525,"p":21.8},{"t":"ALP","g":"N","lo":0.525,"hi":0.6,"p":23.0},{"t":"ALP","g":"N","lo":0.6,"hi":0.675,"p":19.7},{"t":"ALP","g":"N","lo":0.675,"hi":0.75,"p":13.8},{"t":"ALP","g":"N","lo":0.75,"hi":0.825,"p":9.7},{"t":"ALP","g":"N","lo":0.825,"hi":0.9,"p":6.3},{"t":"ALP","g":"N","lo":0.9,"hi":0.975,"p":4.2},{"t":"ALP","g":"N","lo":0.975,"hi":1.05,"p":2.5},{"t":"ALP","g":"N","lo":1.05,"hi":1.125,"p":1.5},{"t":"ALP","g":"N","lo":1.125,"hi":1.2,"p":0.9},{"t":"ALP","g":"N","lo":1.2,"hi":1.275,"p":0.6},{"t":"ALP","g":"N","lo":1.275,"hi":1.35,"p":0.4},{"t":"ALP","g":"N","lo":1.35,"hi":1.425,"p":0.3},{"t":"ALP","g":"N","lo":1.425,"hi":1.5,"p":0.2},{"t":"ALP","g":"N","lo":1.5,"hi":1.575,"p":0.15},{"t":"ALP","g":"N","lo":1.575,"hi":1.65,"p":0.1},{"t":"ALP","g":"N","lo":1.65,"hi":1.725,"p":0.1},{"t":"ALP","g":"N","lo":1.725,"hi":1.8,"p":0.05},{"t":"ALP","g":"N","lo":2.1,"hi":2.175,"p":0.05},{"t":"ALP","g":"N","lo":2.55,"hi":2.625,"p":0.05},
{"t":"ALP","g":"A","lo":0.15,"hi":0.225,"p":0.3},{"t":"ALP","g":"A","lo":0.225,"hi":0.3,"p":0.8},{"t":"ALP","g":"A","lo":0.3,"hi":0.375,"p":4.2},{"t":"ALP","g":"A","lo":0.375,"hi":0.45,"p":4.7},{"t":"ALP","g":"A","lo":0.45,"hi":0.525,"p":11.3},{"t":"ALP","g":"A","lo":0.525,"hi":0.6,"p":15.2},{"t":"ALP","g":"A","lo":0.6,"hi":0.675,"p":12.2},{"t":"ALP","g":"A","lo":0.675,"hi":0.75,"p":11.3},{"t":"ALP","g":"A","lo":0.75,"hi":0.825,"p":9.7},{"t":"ALP","g":"A","lo":0.825,"hi":0.9,"p":8.8},{"t":"ALP","g":"A","lo":0.9,"hi":0.975,"p":8.5},{"t":"ALP","g":"A","lo":0.975,"hi":1.05,"p":7.5},{"t":"ALP","g":"A","lo":1.05,"hi":1.125,"p":6.7},{"t":"ALP","g":"A","lo":1.125,"hi":1.2,"p":6.0},{"t":"ALP","g":"A","lo":1.2,"hi":1.275,"p":5.2},{"t":"ALP","g":"A","lo":1.275,"hi":1.35,"p":4.7},{"t":"ALP","g":"A","lo":1.35,"hi":1.425,"p":4.5},{"t":"ALP","g":"A","lo":1.425,"hi":1.5,"p":3.8},{"t":"ALP","g":"A","lo":1.5,"hi":1.575,"p":3.3},{"t":"ALP","g":"A","lo":1.575,"hi":1.65,"p":2.5},{"t":"ALP","g":"A","lo":1.65,"hi":1.725,"p":2.2},{"t":"ALP","g":"A","lo":1.725,"hi":1.8,"p":2.0},{"t":"ALP","g":"A","lo":1.8,"hi":1.875,"p":1.8},{"t":"ALP","g":"A","lo":1.875,"hi":1.95,"p":1.7},{"t":"ALP","g":"A","lo":1.95,"hi":2.025,"p":1.5},{"t":"ALP","g":"A","lo":2.025,"hi":2.1,"p":1.3},{"t":"ALP","g":"A","lo":2.1,"hi":2.175,"p":1.2},{"t":"ALP","g":"A","lo":2.175,"hi":2.25,"p":1.0},{"t":"ALP","g":"A","lo":2.25,"hi":2.325,"p":1.0},{"t":"ALP","g":"A","lo":2.325,"hi":2.4,"p":0.9},{"t":"ALP","g":"A","lo":2.4,"hi":2.475,"p":0.8},{"t":"ALP","g":"A","lo":2.475,"hi":2.55,"p":0.7},{"t":"ALP","g":"A","lo":2.55,"hi":2.625,"p":0.7},{"t":"ALP","g":"A","lo":2.625,"hi":2.7,"p":0.6},{"t":"ALP","g":"A","lo":2.7,"hi":2.775,"p":0.4},
{"t":"TBL","g":"N","lo":0.075,"hi":0.15,"p":0.5},{"t":"TBL","g":"N","lo":0.15,"hi":0.225,"p":12.2},{"t":"TBL","g":"N","lo":0.225,"hi":0.3,"p":17.8},{"t":"TBL","g":"N","lo":0.3,"hi":0.375,"p":26.0},{"t":"TBL","g":"N","lo":0.375,"hi":0.45,"p":20.5},{"t":"TBL","g":"N","lo":0.45,"hi":0.525,"p":14.2},{"t":"TBL","g":"N","lo":0.525,"hi":0.6,"p":8.8},{"t":"TBL","g":"N","lo":0.6,"hi":0.675,"p":5.8},{"t":"TBL","g":"N","lo":0.675,"hi":0.75,"p":4.7},{"t":"TBL","g":"N","lo":0.75,"hi":0.825,"p":3.5},{"t":"TBL","g":"N","lo":0.825,"hi":0.9,"p":2.7},{"t":"TBL","g":"N","lo":0.9,"hi":0.975,"p":2.2},{"t":"TBL","g":"N","lo":0.975,"hi":1.05,"p":1.5},{"t":"TBL","g":"N","lo":1.05,"hi":1.125,"p":1.0},{"t":"TBL","g":"N","lo":1.125,"hi":1.2,"p":0.7},{"t":"TBL","g":"N","lo":1.2,"hi":1.275,"p":0.5},{"t":"TBL","g":"N","lo":1.275,"hi":1.35,"p":0.3},{"t":"TBL","g":"N","lo":1.35,"hi":1.425,"p":0.2},{"t":"TBL","g":"N","lo":1.425,"hi":1.5,"p":0.1},{"t":"TBL","g":"N","lo":1.5,"hi":1.575,"p":0.1},{"t":"TBL","g":"N","lo":1.575,"hi":1.65,"p":0.05},{"t":"TBL","g":"N","lo":2.1,"hi":2.175,"p":0.05},{"t":"TBL","g":"N","lo":2.7,"hi":2.775,"p":0.05},
{"t":"TBL","g":"A","lo":0.075,"hi":0.15,"p":0.5},{"t":"TBL","g":"A","lo":0.15,"hi":0.225,"p":12.8},{"t":"TBL","g":"A","lo":0.225,"hi":0.3,"p":17.5},{"t":"TBL","g":"A","lo":0.3,"hi":0.375,"p":25.2},{"t":"TBL","g":"A","lo":0.375,"hi":0.45,"p":20.0},{"t":"TBL","g":"A","lo":0.45,"hi":0.525,"p":10.2},{"t":"TBL","g":"A","lo":0.525,"hi":0.6,"p":10.2},{"t":"TBL","g":"A","lo":0.6,"hi":0.675,"p":10.5},{"t":"TBL","g":"A","lo":0.675,"hi":0.75,"p":6.7},{"t":"TBL","g":"A","lo":0.75,"hi":0.825,"p":3.5},{"t":"TBL","g":"A","lo":0.825,"hi":0.9,"p":2.7},{"t":"TBL","g":"A","lo":0.9,"hi":0.975,"p":2.5},{"t":"TBL","g":"A","lo":0.975,"hi":1.05,"p":3.0},{"t":"TBL","g":"A","lo":1.05,"hi":1.125,"p":1.5},{"t":"TBL","g":"A","lo":1.125,"hi":1.2,"p":1.3},{"t":"TBL","g":"A","lo":1.2,"hi":1.275,"p":1.2},{"t":"TBL","g":"A","lo":1.275,"hi":1.35,"p":0.6},{"t":"TBL","g":"A","lo":1.35,"hi":1.425,"p":0.8},{"t":"TBL","g":"A","lo":1.425,"hi":1.5,"p":0.4},{"t":"TBL","g":"A","lo":1.5,"hi":1.575,"p":0.6},{"t":"TBL","g":"A","lo":1.575,"hi":1.65,"p":0.3},{"t":"TBL","g":"A","lo":1.65,"hi":1.725,"p":0.2},{"t":"TBL","g":"A","lo":1.8,"hi":1.875,"p":0.2},{"t":"TBL","g":"A","lo":1.95,"hi":2.025,"p":0.2},{"t":"TBL","g":"A","lo":2.4,"hi":2.475,"p":0.15},{"t":"TBL","g":"A","lo":2.55,"hi":2.625,"p":0.15}
]
},
"spacing": 43,
"resolve": {"scale": {"x": "independent", "y": "independent", "fill": "independent"}, "legend": {"fill": "independent"}},
"vconcat": [
{
 "data": {"name": "r1"},
 "title": {"text": "AT > 3 × ULN elevations", "anchor": "middle", "dx": 17, "offset": -9},
 "spacing": 0,
 "facet": {"column": {"field": "t", "type": "nominal", "sort": ["ALT","AST","ALP"], "header": {"labels": false, "title": "Baseline lab test value (×ULN)", "titleOrient": "bottom", "titlePadding": 0, "titleFontSize": 12, "titleFontWeight": "bold", "titleFont": "Liberation Sans", "titleColor": "#000"}}},
 "spec": {
  "width": 221, "height": 70,
  "resolve": {"axis": {"x": "independent", "y": "independent"}},
  "layer": [
   {"transform": [{"aggregate": [{"op": "count", "as": "n"}], "groupby": ["t"]}],
    "mark": {"type": "rect", "fill": "#FFE5CC", "stroke": "#444", "strokeWidth": 1},
    "encoding": {
     "x": {"datum": -0.01, "type": "quantitative", "scale": {"domain": [-0.01, 3.01], "nice": false, "zero": false}, "axis": {"orient": "top", "values": [0.5,1,1.5,2,2.5], "labels": false, "tickSize": 5, "title": null}},
     "x2": {"datum": 3.01},
     "y": {"datum": 17.5, "type": "quantitative", "scale": {"domain": [-0.7, 21.6], "nice": false, "zero": false}, "axis": {"orient": "right", "values": [0,5,10,15], "labels": false, "tickSize": 5, "title": null}},
     "y2": {"datum": 21.6}}},
   {"transform": [{"aggregate": [{"op": "count", "as": "n"}], "groupby": ["t"]}],
    "mark": {"type": "rule", "color": "#999", "strokeWidth": 1},
    "encoding": {
     "x": {"datum": -0.01, "type": "quantitative", "scale": {"domain": [-0.01, 3.01], "nice": false, "zero": false}, "axis": null},
     "x2": {"datum": 3.01},
     "y": {"datum": 0, "type": "quantitative", "scale": {"domain": [-0.7, 21.6], "nice": false, "zero": false}, "axis": null}}},
   {"mark": {"type": "bar"},
    "encoding": {
     "x": {"field": "lo", "type": "quantitative", "scale": {"domain": [-0.01, 3.01], "nice": false, "zero": false}, "axis": {"orient": "bottom", "values": [0.5,1,1.5,2,2.5], "format": ".1f", "ticks": false, "labelPadding": 6, "title": null}},
     "x2": {"field": "hi"},
     "y": {"field": "p", "type": "quantitative", "scale": {"domain": [-0.7, 21.6], "nice": false, "zero": false}, "axis": {"orient": "left", "values": [0,5,10,15], "format": "d", "tickSize": 6, "labelPadding": 4, "title": "Percent of total", "titlePadding": 7, "titleY": 41.5, "titleFontSize": 11}},
     "y2": {"datum": 0},
     "fill": {"field": "g", "type": "nominal", "scale": {"domain": ["N","A"], "range": ["#1A78C8","#9B007D"]},
      "legend": {"orient": "none", "legendX": 262, "legendY": -48, "direction": "horizontal", "title": null, "symbolType": "M-1,-0.035H1V0.035H-1Z", "symbolSize": 1849, "symbolStrokeWidth": 0, "symbolOpacity": 0.55, "symbolOffset": 12, "labelAlign": "right", "labelOffset": -49, "labelFontSize": 11, "labelFont": "Liberation Sans", "labelLimit": 300, "columnPadding": 31,
       "labelExpr": "datum.value == 'N' ? 'Normals (n = 15435)' : 'Abnormals (n = 874)'",
       "labelColor": {"expr": "datum.value == 'A' ? '#C062AE' : '#4F8FCC'"}}},
     "fillOpacity": {"condition": {"test": "datum.g == 'A'", "value": 0.5}, "value": 0.6}}},
   {"mark": {"type": "bar", "filled": false, "stroke": "#1a1a1a", "strokeWidth": 0.6, "strokeOpacity": 0.6},
    "encoding": {
     "x": {"field": "lo", "type": "quantitative", "scale": {"domain": [-0.01, 3.01], "nice": false, "zero": false}, "axis": null},
     "x2": {"field": "hi"},
     "y": {"field": "p", "type": "quantitative", "scale": {"domain": [-0.7, 21.6], "nice": false, "zero": false}, "axis": null},
     "y2": {"datum": 0}}},
   {"transform": [{"aggregate": [{"op": "count", "as": "n"}], "groupby": ["t"]}],
    "mark": {"type": "rule", "color": "#444", "strokeDash": [3, 2], "strokeWidth": 1},
    "encoding": {
     "x": {"datum": 1, "type": "quantitative", "scale": {"domain": [-0.01, 3.01], "nice": false, "zero": false}, "axis": null},
     "y": {"datum": -0.7, "type": "quantitative", "scale": {"domain": [-0.7, 21.6], "nice": false, "zero": false}, "axis": null},
     "y2": {"datum": 17.5}}},
   {"transform": [{"aggregate": [{"op": "count", "as": "n"}], "groupby": ["t"]}],
    "mark": {"type": "text", "fontSize": 12, "font": "Liberation Sans", "color": "#000", "baseline": "middle", "align": "center"},
    "encoding": {
     "text": {"field": "t"},
     "x": {"datum": 1.5, "type": "quantitative", "scale": {"domain": [-0.01, 3.01], "nice": false, "zero": false}, "axis": null},
     "y": {"datum": 19.55, "type": "quantitative", "scale": {"domain": [-0.7, 21.6], "nice": false, "zero": false}, "axis": null}}}
  ]
 }
},
{
 "data": {"name": "r2"},
 "title": {"text": "TBL > 1.5 × ULN elevations", "anchor": "middle", "dx": 17, "offset": -9},
 "spacing": 0,
 "facet": {"column": {"field": "t", "type": "nominal", "sort": ["ALT","AST","ALP","TBL"], "header": {"labels": false, "title": "Baseline lab test value (×ULN)", "titleOrient": "bottom", "titlePadding": 0, "titleFontSize": 12, "titleFontWeight": "bold", "titleFont": "Liberation Sans", "titleColor": "#000"}}},
 "spec": {
  "width": 166, "height": 70,
  "resolve": {"axis": {"x": "independent", "y": "independent"}},
  "layer": [
   {"transform": [{"aggregate": [{"op": "count", "as": "n"}], "groupby": ["t"]}],
    "mark": {"type": "rect", "fill": "#FFE5CC", "stroke": "#444", "strokeWidth": 1},
    "encoding": {
     "x": {"datum": -0.01, "type": "quantitative", "scale": {"domain": [-0.01, 3.01], "nice": false, "zero": false}, "axis": {"orient": "top", "values": [0.5,1,1.5,2,2.5], "labels": false, "tickSize": 5, "title": null}},
     "x2": {"datum": 3.01},
     "y": {"datum": 28.5, "type": "quantitative", "scale": {"domain": [-0.9, 35.9], "nice": false, "zero": false}, "axis": {"orient": "right", "values": [0,5,10,15,20,25], "labels": false, "tickSize": 5, "title": null}},
     "y2": {"datum": 35.9}}},
   {"transform": [{"aggregate": [{"op": "count", "as": "n"}], "groupby": ["t"]}],
    "mark": {"type": "rule", "color": "#999", "strokeWidth": 1},
    "encoding": {
     "x": {"datum": -0.01, "type": "quantitative", "scale": {"domain": [-0.01, 3.01], "nice": false, "zero": false}, "axis": null},
     "x2": {"datum": 3.01},
     "y": {"datum": 0, "type": "quantitative", "scale": {"domain": [-0.9, 35.9], "nice": false, "zero": false}, "axis": null}}},
   {"mark": {"type": "bar"},
    "encoding": {
     "x": {"field": "lo", "type": "quantitative", "scale": {"domain": [-0.01, 3.01], "nice": false, "zero": false}, "axis": {"orient": "bottom", "values": [0.5,1,1.5,2,2.5], "format": ".1f", "ticks": false, "labelPadding": 6, "title": null}},
     "x2": {"field": "hi"},
     "y": {"field": "p", "type": "quantitative", "scale": {"domain": [-0.9, 35.9], "nice": false, "zero": false}, "axis": {"orient": "left", "values": [0,5,10,15,20,25], "format": "d", "tickSize": 6, "labelPadding": 4, "title": "Percent of total", "titlePadding": 7, "titleY": 42, "titleFontSize": 11}},
     "y2": {"datum": 0},
     "fill": {"field": "g", "type": "nominal", "scale": {"domain": ["N","A"], "range": ["#1A78C8","#9B007D"]},
      "legend": {"orient": "none", "legendX": 262, "legendY": -47, "direction": "horizontal", "title": null, "symbolType": "M-1,-0.035H1V0.035H-1Z", "symbolSize": 1849, "symbolStrokeWidth": 0, "symbolOpacity": 0.55, "symbolOffset": 12, "labelAlign": "right", "labelOffset": -49, "labelFontSize": 11, "labelFont": "Liberation Sans", "labelLimit": 300, "columnPadding": 31,
       "labelExpr": "datum.value == 'N' ? 'Normals (n = 15438)' : 'Abnormals (n = 521)'",
       "labelColor": {"expr": "datum.value == 'A' ? '#C062AE' : '#4F8FCC'"}}},
     "fillOpacity": {"condition": {"test": "datum.g == 'A'", "value": 0.5}, "value": 0.6}}},
   {"mark": {"type": "bar", "filled": false, "stroke": "#1a1a1a", "strokeWidth": 0.6, "strokeOpacity": 0.6},
    "encoding": {
     "x": {"field": "lo", "type": "quantitative", "scale": {"domain": [-0.01, 3.01], "nice": false, "zero": false}, "axis": null},
     "x2": {"field": "hi"},
     "y": {"field": "p", "type": "quantitative", "scale": {"domain": [-0.9, 35.9], "nice": false, "zero": false}, "axis": null},
     "y2": {"datum": 0}}},
   {"transform": [{"aggregate": [{"op": "count", "as": "n"}], "groupby": ["t"]}],
    "mark": {"type": "rule", "color": "#444", "strokeDash": [3, 2], "strokeWidth": 1},
    "encoding": {
     "x": {"datum": 1, "type": "quantitative", "scale": {"domain": [-0.01, 3.01], "nice": false, "zero": false}, "axis": null},
     "y": {"datum": -0.9, "type": "quantitative", "scale": {"domain": [-0.9, 35.9], "nice": false, "zero": false}, "axis": null},
     "y2": {"datum": 28.5}}},
   {"transform": [{"aggregate": [{"op": "count", "as": "n"}], "groupby": ["t"]}],
    "mark": {"type": "text", "fontSize": 12, "font": "Liberation Sans", "color": "#000", "baseline": "middle", "align": "center"},
    "encoding": {
     "text": {"field": "t"},
     "x": {"datum": 1.5, "type": "quantitative", "scale": {"domain": [-0.01, 3.01], "nice": false, "zero": false}, "axis": null},
     "y": {"datum": 32.2, "type": "quantitative", "scale": {"domain": [-0.9, 35.9], "nice": false, "zero": false}, "axis": null}}}
  ]
 }
},
{
 "data": {"name": "r3"},
 "title": {"text": "ALP > 1.5 × ULN elevations", "anchor": "middle", "dx": 17, "offset": -9},
 "spacing": 0,
 "facet": {"column": {"field": "t", "type": "nominal", "sort": ["ALT","AST","ALP","TBL"], "header": {"labels": false, "title": "Baseline lab test value (×ULN)", "titleOrient": "bottom", "titlePadding": 0, "titleFontSize": 12, "titleFontWeight": "bold", "titleFont": "Liberation Sans", "titleColor": "#000"}}},
 "spec": {
  "width": 166, "height": 70,
  "resolve": {"axis": {"x": "independent", "y": "independent"}},
  "layer": [
   {"transform": [{"aggregate": [{"op": "count", "as": "n"}], "groupby": ["t"]}],
    "mark": {"type": "rect", "fill": "#FFE5CC", "stroke": "#444", "strokeWidth": 1},
    "encoding": {
     "x": {"datum": -0.01, "type": "quantitative", "scale": {"domain": [-0.01, 3.01], "nice": false, "zero": false}, "axis": {"orient": "top", "values": [0.5,1,1.5,2,2.5], "labels": false, "tickSize": 5, "title": null}},
     "x2": {"datum": 3.01},
     "y": {"datum": 27.6, "type": "quantitative", "scale": {"domain": [-0.85, 34.1], "nice": false, "zero": false}, "axis": {"orient": "right", "values": [0,5,10,15,20,25], "labels": false, "tickSize": 5, "title": null}},
     "y2": {"datum": 34.1}}},
   {"transform": [{"aggregate": [{"op": "count", "as": "n"}], "groupby": ["t"]}],
    "mark": {"type": "rule", "color": "#999", "strokeWidth": 1},
    "encoding": {
     "x": {"datum": -0.01, "type": "quantitative", "scale": {"domain": [-0.01, 3.01], "nice": false, "zero": false}, "axis": null},
     "x2": {"datum": 3.01},
     "y": {"datum": 0, "type": "quantitative", "scale": {"domain": [-0.85, 34.1], "nice": false, "zero": false}, "axis": null}}},
   {"mark": {"type": "bar"},
    "encoding": {
     "x": {"field": "lo", "type": "quantitative", "scale": {"domain": [-0.01, 3.01], "nice": false, "zero": false}, "axis": {"orient": "bottom", "values": [0.5,1,1.5,2,2.5], "format": ".1f", "ticks": false, "labelPadding": 6, "title": null}},
     "x2": {"field": "hi"},
     "y": {"field": "p", "type": "quantitative", "scale": {"domain": [-0.85, 34.1], "nice": false, "zero": false}, "axis": {"orient": "left", "values": [0,5,10,15,20,25], "format": "d", "tickSize": 6, "labelPadding": 4, "title": "Percent of total", "titlePadding": 7, "titleY": 41.5, "titleFontSize": 11}},
     "y2": {"datum": 0},
     "fill": {"field": "g", "type": "nominal", "scale": {"domain": ["N","A"], "range": ["#1A78C8","#9B007D"]},
      "legend": {"orient": "none", "legendX": 258, "legendY": -47, "direction": "horizontal", "title": null, "symbolType": "M-1,-0.035H1V0.035H-1Z", "symbolSize": 1849, "symbolStrokeWidth": 0, "symbolOpacity": 0.55, "symbolOffset": 12, "labelAlign": "right", "labelOffset": -49, "labelFontSize": 11, "labelFont": "Liberation Sans", "labelLimit": 300, "columnPadding": 25,
       "labelExpr": "datum.value == 'N' ? 'Normals (n = 15438)' : 'Abnormals (n = 1212)'",
       "labelColor": {"expr": "datum.value == 'A' ? '#C062AE' : '#4F8FCC'"}}},
     "fillOpacity": {"condition": {"test": "datum.g == 'A'", "value": 0.5}, "value": 0.6}}},
   {"mark": {"type": "bar", "filled": false, "stroke": "#1a1a1a", "strokeWidth": 0.6, "strokeOpacity": 0.6},
    "encoding": {
     "x": {"field": "lo", "type": "quantitative", "scale": {"domain": [-0.01, 3.01], "nice": false, "zero": false}, "axis": null},
     "x2": {"field": "hi"},
     "y": {"field": "p", "type": "quantitative", "scale": {"domain": [-0.85, 34.1], "nice": false, "zero": false}, "axis": null},
     "y2": {"datum": 0}}},
   {"transform": [{"aggregate": [{"op": "count", "as": "n"}], "groupby": ["t"]}],
    "mark": {"type": "rule", "color": "#444", "strokeDash": [3, 2], "strokeWidth": 1},
    "encoding": {
     "x": {"datum": 1, "type": "quantitative", "scale": {"domain": [-0.01, 3.01], "nice": false, "zero": false}, "axis": null},
     "y": {"datum": -0.85, "type": "quantitative", "scale": {"domain": [-0.85, 34.1], "nice": false, "zero": false}, "axis": null},
     "y2": {"datum": 27.6}}},
   {"transform": [{"aggregate": [{"op": "count", "as": "n"}], "groupby": ["t"]}],
    "mark": {"type": "text", "fontSize": 12, "font": "Liberation Sans", "color": "#000", "baseline": "middle", "align": "center"},
    "encoding": {
     "text": {"field": "t"},
     "x": {"datum": 1.5, "type": "quantitative", "scale": {"domain": [-0.01, 3.01], "nice": false, "zero": false}, "axis": null},
     "y": {"datum": 30.85, "type": "quantitative", "scale": {"domain": [-0.85, 34.1], "nice": false, "zero": false}, "axis": null}}}
  ]
 }
}
]
}
